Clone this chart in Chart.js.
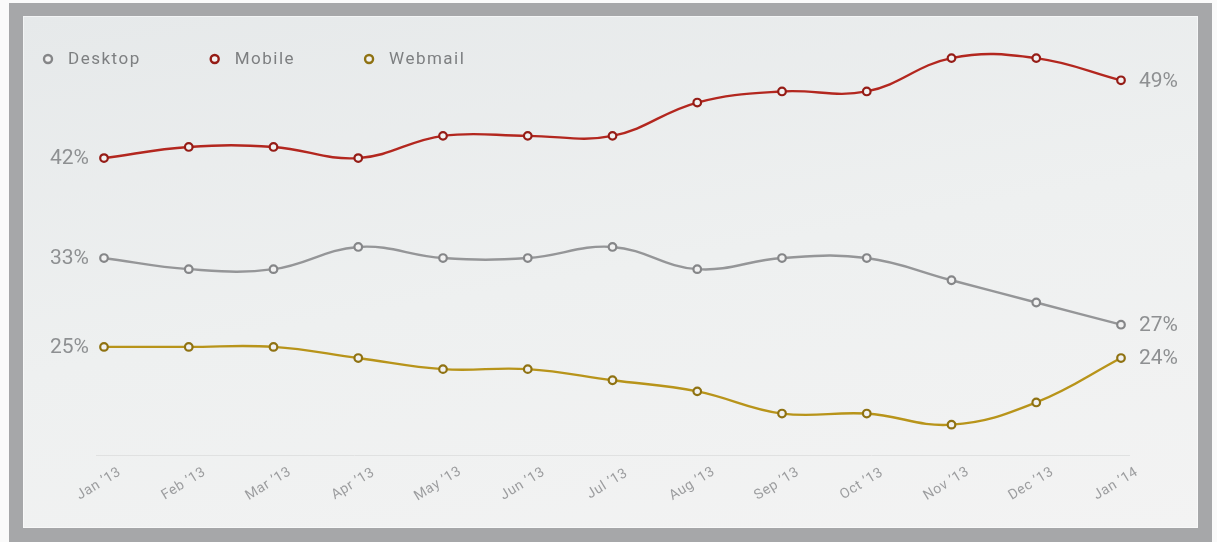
<!DOCTYPE html>
<html>
<head>
<meta charset="utf-8">
<script src="https://cdn.jsdelivr.net/npm/chart.js@4/dist/chart.umd.min.js"></script>
<style>
  html, body { margin: 0; padding: 0; background: #fafafa; width: 1217px; height: 542px; overflow: hidden; }
  #frame { position: absolute; left: 9px; top: 3px; width: 1203px; height: 539px; background: #a6a7a9; }
  #panel {
    position: absolute; left: 23px; top: 16px; width: 1175px; height: 512px;
    background: linear-gradient(170deg, #e6e9ea 0%, #eef0f0 50%, #f3f3f3 100%);
    box-shadow: inset 0 0 0 1px rgba(255,255,255,0.5);
  }
  canvas { position: absolute; left: 0; top: 0; }
</style>
</head>
<body>
<div id="frame"></div>
<div id="panel"><canvas id="chart-main" width="1175" height="512"></canvas></div>

<script>
// Data
const months = ["Jan \u201913", "Feb \u201913", "Mar \u201913", "Apr \u201913", "May \u201913", "Jun \u201913",
  "Jul \u201913", "Aug \u201913", "Sep \u201913", "Oct \u201913", "Nov \u201913", "Dec \u201913", "Jan \u201914"];
const desktop = [33, 32, 32, 34, 33, 33, 34, 32, 33, 33, 31, 29, 27];
const mobile = [42, 43, 43, 42, 44, 44, 44, 47, 48, 48, 51, 51, 49];
const webmail = [25, 25, 25, 24, 23, 23, 22, 21, 19, 19, 18, 20, 24];

const seriesNames = ['Desktop', 'Mobile', 'Webmail'];
const seriesColors = ['#959698', '#b3271f', '#b8941a'];
const pointRims = ['#858688', '#951c16', '#8f7212'];

const LABEL_FONT = '21px Roboto, "Open Sans", sans-serif';

// draws baseline, endpoint labels, rotated month labels and the legend
const overlay = {
  id: 'overlay',
  beforeDatasetsDraw(chart) {
    const { ctx, chartArea } = chart;
    ctx.save();
    ctx.strokeStyle = '#e0e1e1';
    ctx.lineWidth = 1;
    ctx.beginPath();
    ctx.moveTo(chartArea.left - 8, chartArea.bottom + 0.5);
    ctx.lineTo(chartArea.right + 9, chartArea.bottom + 0.5);
    ctx.stroke();
    ctx.restore();
  },
  afterDatasetsDraw(chart) {
    const { ctx, chartArea } = chart;
    const xScale = chart.scales.x;
    ctx.save();

    // first / last values
    ctx.font = LABEL_FONT;
    ctx.fillStyle = '#8e9092';
    ctx.textBaseline = 'middle';
    chart.data.datasets.forEach((ds, i) => {
      const pts = chart.getDatasetMeta(i).data;
      const first = pts[0], last = pts[pts.length - 1];
      ctx.textAlign = 'right';
      ctx.fillText(ds.data[0] + '%', first.x - 15, first.y + 1);
      ctx.textAlign = 'left';
      ctx.fillText(ds.data[ds.data.length - 1] + '%', last.x + 18, last.y + 1);
    });

    // month labels
    ctx.font = '14px Roboto, "Open Sans", sans-serif';
    ctx.letterSpacing = '0.6px';
    ctx.fillStyle = '#9c9d9f';
    ctx.textAlign = 'center';
    months.forEach((m, i) => {
      const x = xScale.getPixelForTick(i);
      ctx.save();
      ctx.translate(x - 5, chartArea.bottom + 29);
      ctx.rotate(-0.55);
      ctx.fillText(m, 0, 0);
      ctx.restore();
    });

    // legend
    ctx.font = '17px Roboto, "Open Sans", sans-serif';
    ctx.textAlign = 'left';
    ctx.letterSpacing = '1.5px';
    let lx = 25;
    const ly = 43;
    chart.data.datasets.forEach((ds, i) => {
      ctx.beginPath();
      ctx.arc(lx, ly, 4, 0, Math.PI * 2);
      ctx.fillStyle = '#f2f2f2';
      ctx.fill();
      ctx.lineWidth = 2.4;
      ctx.strokeStyle = pointRims[i];
      ctx.stroke();
      ctx.fillStyle = '#7d7f81';
      ctx.fillText(ds.label, lx + 20, ly + 1);
      const w = ctx.measureText(ds.label).width;
      lx += 20 + w + 74;
    });
    ctx.restore();
  }
};

const makeSet = (label, data, i) => ({
  label,
  data,
  borderColor: seriesColors[i],
  borderWidth: 2.4,
  tension: 0.4,
  pointRadius: 3.8,
  pointBorderWidth: 2.2,
  pointBorderColor: pointRims[i],
  pointBackgroundColor: '#f1f1f1',
  clip: false,
  fill: false
});

new Chart(document.getElementById('chart-main'), {
  type: 'line',
  data: {
    labels: months,
    datasets: [
      makeSet(seriesNames[0], desktop, 0),
      makeSet(seriesNames[1], mobile, 1),
      makeSet(seriesNames[2], webmail, 2)
    ]
  },
  options: {
    responsive: false,
    animation: false,
    devicePixelRatio: 1,
    layout: { padding: { top: 31, bottom: 73, left: 81, right: 77 } },
    scales: {
      x: { display: false },
      y: { display: false, min: 15.27, max: 52 }
    },
    plugins: { legend: { display: false }, tooltip: { enabled: false } }
  },
  plugins: [overlay]
});
</script>
</body>
</html>
